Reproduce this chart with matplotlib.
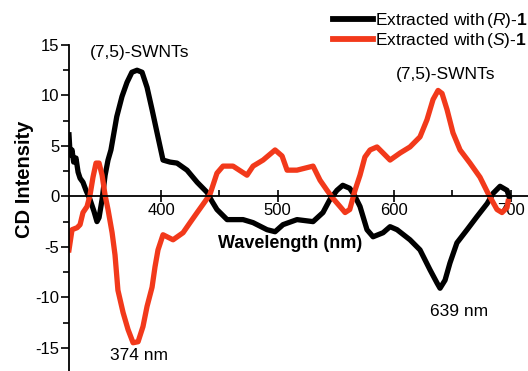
import matplotlib.pyplot as plt
from matplotlib.lines import Line2D
from matplotlib.ticker import MultipleLocator

plt.rcParams["font.family"] = ["Liberation Sans", "DejaVu Sans"]
plt.rcParams["axes.unicode_minus"] = False
plt.rcParams["mathtext.fontset"] = "custom"
plt.rcParams["mathtext.rm"] = "Liberation Sans"
plt.rcParams["mathtext.it"] = "Liberation Sans:italic"
plt.rcParams["mathtext.bf"] = "Liberation Sans:bold"

# ── Data ─────────────────────────────────────────────────────────────────────
wl_R = [321, 322, 323.6, 325, 327, 328.8, 330.5, 333, 335.6, 339, 342.5, 345,
        346.8, 349.4, 352, 354.5, 357, 362, 366.5, 370.8, 375, 379.4, 383.7,
        388, 392.3, 396.6, 401.7, 407.7, 413.7, 422.3, 431, 439.5, 443.8, 448,
        456.7, 470.4, 479, 491, 497.9, 504.7, 516.7, 530.5, 539, 545, 551, 556,
        562, 566.5, 570.8, 576.8, 582, 590.6, 596.6, 602.6, 613.7, 622.3, 631,
        637, 639.5, 643.8, 648, 654, 662.7, 671.2, 680, 685, 691, 697, 698.7]
cd_R = [6.1, 4.1, 4.6, 3.4, 3.8, 2.4, 1.8, 1.4, 0.6, -0.3, -1.5, -2.5,
        -2.1, -0.3, 2.1, 3.6, 4.6, 7.9, 9.9, 11.3, 12.3, 12.5, 12.3,
        10.8, 8.6, 6.3, 3.6, 3.4, 3.3, 2.6, 1.4, 0.4, -0.5, -1.3,
        -2.3, -2.3, -2.6, -3.3, -3.5, -2.8, -2.3, -2.5, -1.6, -0.3, 0.6, 1.1,
        0.8, 0.0, -1.0, -3.3, -4.0, -3.6, -3.0, -3.3, -4.3, -5.3, -7.3,
        -8.6, -9.1, -8.3, -6.6, -4.6, -3.3, -2.0, -0.7, 0.3, 1.0, 0.6, 0.0]

wl_S = [321, 323.6, 328, 330.5, 333, 336.5, 339, 341.6, 344.2, 346.8, 349.4,
        352, 354.5, 358, 360.5, 363, 367.4, 371.7, 376, 380.3, 384.5, 388,
        392.3, 394.8, 397.4, 401.7, 410.3, 418.9, 424.9, 431, 437.8, 442, 448,
        453.2, 461.8, 473.8, 479, 487.6, 497.9, 503.9, 508.2, 516.7, 530.5,
        536.5, 542.5, 547.6, 553.6, 558, 562, 566.5, 570.8, 575, 579.4, 585.4,
        590.6, 596.6, 605.2, 613.7, 622.3, 628.3, 633.5, 637.8, 641.2, 645.5,
        650.6, 656.7, 665.2, 673.8, 680.7, 688.4, 692.7, 697, 697.9]
cd_S = [-5.3, -3.3, -3.1, -2.8, -1.6, -1.0, 0.1, 1.9, 3.3, 3.3, 2.1,
        0.1, -1.3, -3.6, -5.8, -9.3, -11.5, -13.2, -14.5, -14.4, -12.9, -10.9,
        -9.0, -7.0, -5.3, -3.8, -4.3, -3.6, -2.6, -1.6, -0.5, 0.2, 2.3,
        3.0, 3.0, 2.1, 3.0, 3.6, 4.6, 4.0, 2.6, 2.6, 3.0,
        1.6, 0.6, -0.2, -1.0, -1.6, -1.3, 0.6, 2.1, 3.9, 4.6, 4.9,
        4.3, 3.6, 4.3, 4.9, 5.9, 7.6, 9.6, 10.5, 10.2, 8.6,
        6.3, 4.6, 3.3, 1.9, 0.3, -1.3, -1.6, -1.1, -0.5]

labels = [r"Extracted with$\,$($\it{R}$)-$\bf{1}$",
          r"Extracted with$\,$($\it{S}$)-$\bf{1}$"]
colors = ["black", "#f2391b"]

# ── Plot ─────────────────────────────────────────────────────────────────────
fig = plt.figure(figsize=(5.28, 3.71), dpi=100)
ax = fig.add_axes([69 / 528, 0.0, 1 - 69 / 528, 1 - 45 / 371])

ax.plot(wl_R, cd_R, color=colors[0], lw=3.8, solid_joinstyle="round")
ax.plot(wl_S, cd_S, color=colors[1], lw=3.8, solid_joinstyle="round")

ax.set_xlim(321, 715)
ax.set_ylim(-17.3, 15)

ax.spines["top"].set_visible(False)
ax.spines["right"].set_visible(False)
ax.spines["bottom"].set_position(("data", 0))
for sp in ("left", "bottom"):
    ax.spines[sp].set_linewidth(1.3)

ax.xaxis.set_major_locator(MultipleLocator(100))
ax.xaxis.set_minor_locator(MultipleLocator(50))
ax.yaxis.set_major_locator(MultipleLocator(5))
ax.yaxis.set_minor_locator(MultipleLocator(2.5))
ax.tick_params(axis="x", which="major", direction="inout", length=8, width=1.2,
               labelsize=12, pad=1)
ax.tick_params(axis="x", which="minor", direction="in", length=4, width=1.2)
ax.tick_params(axis="y", which="major", direction="out", length=6, width=1.2,
               labelsize=12, pad=1)
ax.tick_params(axis="y", which="minor", direction="out", length=4, width=1.2)
ax.set_xticks([400, 500, 600, 700])
ax.set_yticks([-15, -10, -5, 0, 5, 10, 15])

fig.text(290 / 528, 1 - 243 / 371, "Wavelength (nm)", fontsize=13,
         fontweight="bold", ha="center", va="center")
fig.text(25 / 528, 1 - 179 / 371, "CD Intensity", fontsize=14.5,
         fontweight="bold", ha="center", va="center", rotation=90)

fig.text(140 / 528, 1 - 52 / 371, "(7,5)-SWNTs", fontsize=12.5,
         ha="center", va="center")
fig.text(446 / 528, 1 - 75 / 371, "(7,5)-SWNTs", fontsize=12.5,
         ha="center", va="center")
fig.text(139 / 528, 1 - 356 / 371, "374 nm", fontsize=12.5,
         ha="center", va="center")
fig.text(459 / 528, 1 - 311 / 371, "639 nm", fontsize=12.5,
         ha="center", va="center")

handles = [Line2D([], [], color=c, lw=4.2) for c in colors]
fig.legend(handles, labels, loc="upper right",
           bbox_to_anchor=(1.0, 1 - 11 / 371), frameon=False,
           fontsize=12.5, handlelength=2.3, handletextpad=0.15,
           labelspacing=0.05, borderpad=0, borderaxespad=0)

fig.savefig("out.png", dpi=100)
